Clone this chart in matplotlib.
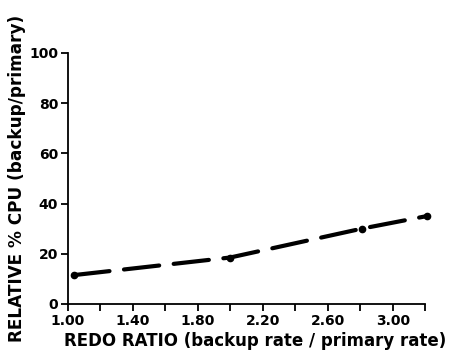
import matplotlib
matplotlib.use("Agg")
import matplotlib.pyplot as plt

# data
redo_ratio = [1.04, 2.00, 2.81, 3.21]
rel_cpu = [11.5, 18.5, 30.0, 35.0]
x_ticks = [1.0, 1.2, 1.4, 1.6, 1.8, 2.0, 2.2, 2.4, 2.6, 2.8, 3.0, 3.2]
x_labels = ["1.00", "", "1.40", "", "1.80", "", "2.20", "", "2.60", "", "3.00", ""]
y_ticks = [0, 20, 40, 60, 80, 100]

plt.rcParams["font.family"] = ["DejaVu Sans"]
plt.rcParams["font.weight"] = "bold"

fig = plt.figure(figsize=(4.49, 3.53), dpi=100)
ax = fig.add_axes([0.151, 0.139, 0.796, 0.711])

ax.plot(redo_ratio, rel_cpu, color="black", lw=3.0, dashes=(8.5, 3.5),
        dash_capstyle="round", solid_capstyle="round", clip_on=False)
ax.plot(redo_ratio, rel_cpu, "o", color="black", ms=4.5, clip_on=False)

ax.set_xlim(1.0, 3.2)
ax.set_ylim(0, 100)
ax.set_xticks(x_ticks)
ax.set_xticklabels(x_labels)
ax.set_yticks(y_ticks)
ax.tick_params(direction="out", length=5, width=1.3, labelsize=10, pad=2)
for s in ["top", "right"]:
    ax.spines[s].set_visible(False)
for s in ["left", "bottom"]:
    ax.spines[s].set_linewidth(1.3)

ax.set_xlabel("REDO RATIO (backup rate / primary rate)", fontsize=12, weight="bold")
ax.xaxis.set_label_coords(0.524, -0.112)
ax.set_ylabel("RELATIVE % CPU (backup/primary)", fontsize=12.2, weight="bold", labelpad=2)

fig.savefig("out.png", dpi=100)
